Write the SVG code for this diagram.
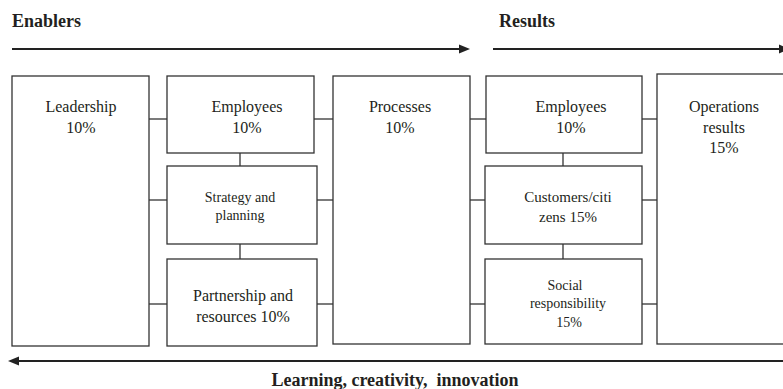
<svg xmlns="http://www.w3.org/2000/svg" width="783" height="389" viewBox="0 0 783 389">
<style>
.box{fill:#fff;stroke:#333;stroke-width:1.3}
.con{stroke:#333;stroke-width:1.3;fill:none}
.arr{stroke:#222;stroke-width:2;fill:none}
.head{fill:#222}
.t{font-family:"Liberation Serif","Times New Roman",serif;fill:#231f20;text-anchor:middle}
.t16{font-size:16px}
.t15{font-size:15px}
.t14{font-size:14px}
.b{font-family:"Liberation Serif","Times New Roman",serif;font-weight:bold;font-size:18px;fill:#231f20}
</style>
<rect width="783" height="389" fill="#fff"/>
<g id="headers">
<text class="b" x="12" y="27">Enablers</text>
<text class="b" x="499" y="27">Results</text>
<text class="b" x="395" y="386" text-anchor="middle" xml:space="preserve">Learning, creativity,  innovation</text>
</g>
<g id="connectors">
<line class="arr" x1="12" y1="49" x2="462" y2="49"/>
<polygon class="head" points="459,44.5 470,49 459,53.5"/>
<line class="arr" x1="493" y1="49" x2="783" y2="49"/>
<polygon class="head" points="779,44.5 790,49 779,53.5"/>
<line class="arr" x1="16" y1="361" x2="783" y2="361"/>
<polygon class="head" points="8,361 19,356.5 19,365.5"/>
<line class="con" x1="149" y1="119" x2="167" y2="119"/>
<line class="con" x1="149" y1="200" x2="167" y2="200"/>
<line class="con" x1="149" y1="304" x2="167" y2="304"/>
<line class="con" x1="240" y1="153" x2="240" y2="166"/>
<line class="con" x1="240" y1="244" x2="240" y2="259"/>
<line class="con" x1="314" y1="119" x2="333" y2="119"/>
<line class="con" x1="317" y1="200" x2="333" y2="200"/>
<line class="con" x1="317" y1="304" x2="333" y2="304"/>
<line class="con" x1="470" y1="119" x2="486" y2="119"/>
<line class="con" x1="470" y1="200" x2="485" y2="200"/>
<line class="con" x1="470" y1="304" x2="485" y2="304"/>
<line class="con" x1="563" y1="153" x2="563" y2="166"/>
<line class="con" x1="563" y1="244" x2="563" y2="259"/>
<line class="con" x1="642" y1="119" x2="657" y2="119"/>
<line class="con" x1="642" y1="200" x2="657" y2="200"/>
<line class="con" x1="642" y1="304" x2="657" y2="304"/>
</g>
<g id="leadership">
<rect class="box" x="12" y="76" width="137" height="270"/>
<text class="t t16" x="81" y="112">Leadership</text>
<text class="t t16" x="81" y="133">10%</text>
</g>
<g id="employees-enablers">
<rect class="box" x="167" y="76" width="147" height="77"/>
<text class="t t16" x="247" y="112">Employees</text>
<text class="t t16" x="247" y="133">10%</text>
</g>
<g id="strategy">
<rect class="box" x="167" y="166" width="150" height="78"/>
<text class="t t14" x="240" y="202">Strategy and</text>
<text class="t t14" x="240" y="220">planning</text>
</g>
<g id="partnership">
<rect class="box" x="167" y="259" width="150" height="87"/>
<text class="t t16" x="243" y="301">Partnership and</text>
<text class="t t16" x="243" y="322">resources 10%</text>
</g>
<g id="processes">
<rect class="box" x="333" y="76" width="137" height="268"/>
<text class="t t16" x="400" y="112">Processes</text>
<text class="t t16" x="400" y="133">10%</text>
</g>
<g id="employees-results">
<rect class="box" x="486" y="76" width="156" height="77"/>
<text class="t t16" x="571" y="112">Employees</text>
<text class="t t16" x="571" y="133">10%</text>
</g>
<g id="customers">
<rect class="box" x="485" y="166" width="157" height="78"/>
<text class="t t15" x="568" y="202">Customers/citi</text>
<text class="t t15" x="568" y="222">zens 15%</text>
</g>
<g id="social">
<rect class="box" x="485" y="259" width="157" height="85"/>
<text class="t t14" x="565" y="290">Social</text>
<text class="t t14" x="568" y="308">responsibility</text>
<text class="t t14" x="569" y="327">15%</text>
</g>
<g id="operations">
<rect class="box" x="657" y="74" width="140" height="270"/>
<text class="t t16" x="724" y="112">Operations</text>
<text class="t t16" x="724" y="133">results</text>
<text class="t t16" x="724" y="153">15%</text>
</g>
</svg>
